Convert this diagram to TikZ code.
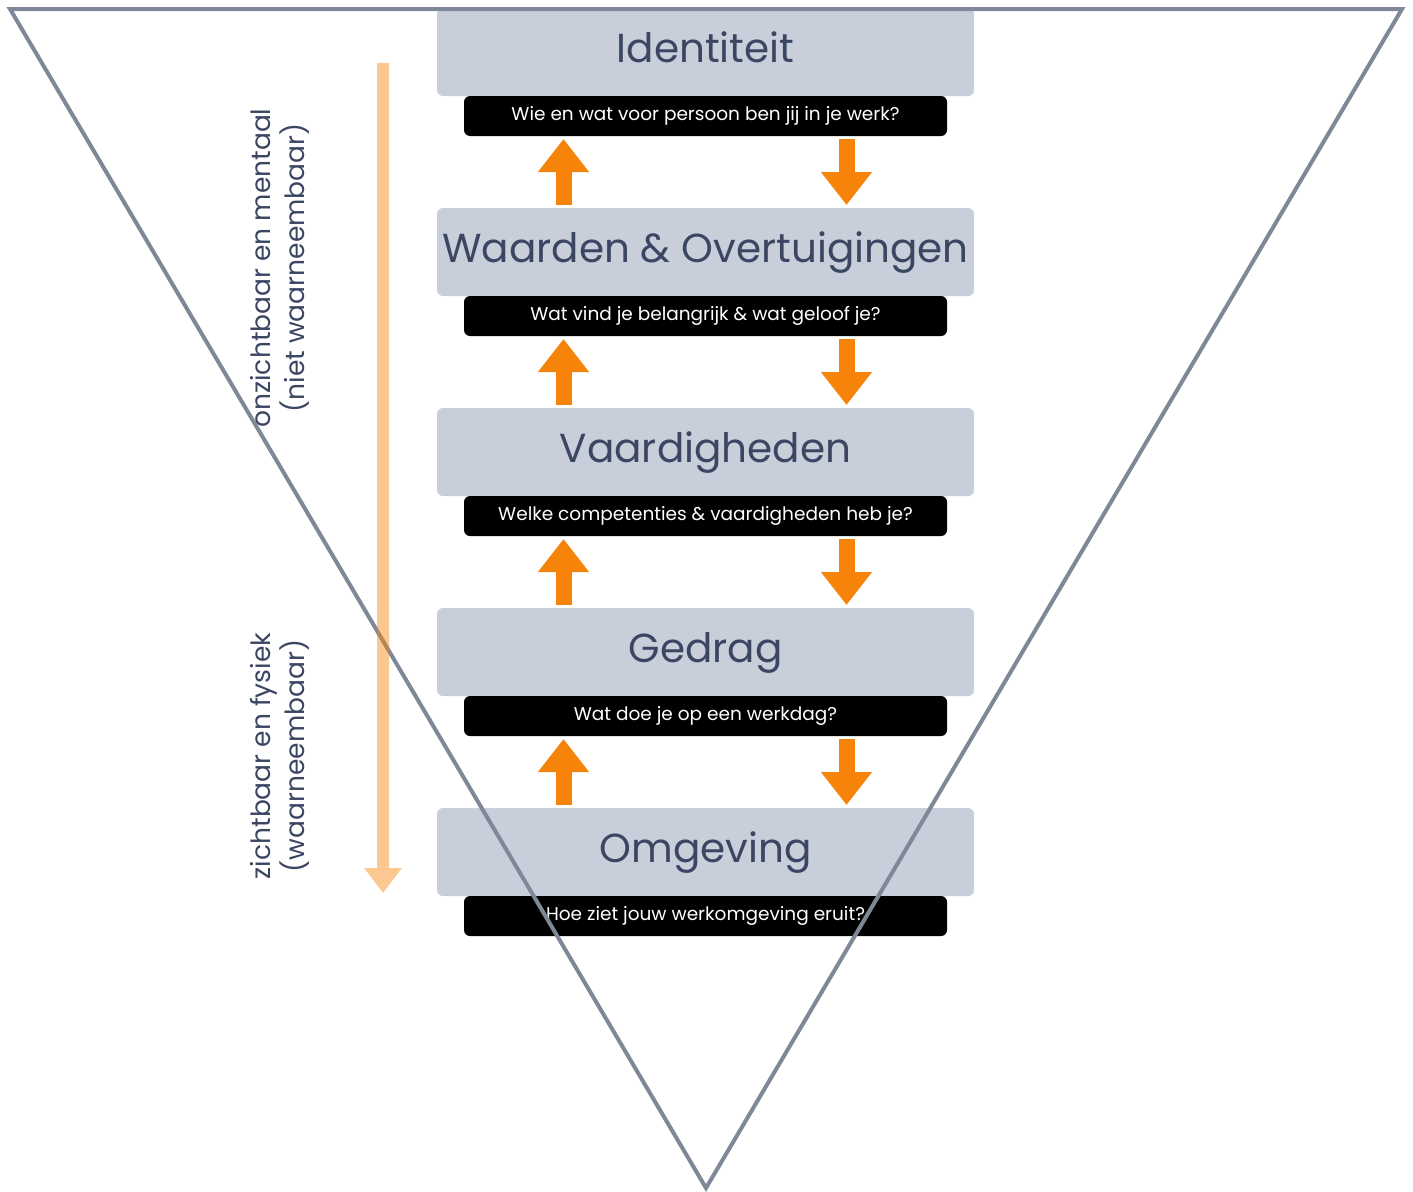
\documentclass[tikz,border=0pt]{standalone}
\usepackage{fontspec}
\setmainfont{Poppins}
\usetikzlibrary{arrows.meta,positioning}
\definecolor{boxgray}{HTML}{C8CFDB}
\definecolor{textslate}{HTML}{3B4663}
\definecolor{pijloranje}{HTML}{F7840A}
\definecolor{randgrijs}{HTML}{7F8898}

\begin{document}
\begin{tikzpicture}[x=1pt,y=-1pt,>=Latex,
 level/.style={fill=boxgray,rounded corners=6pt,minimum width=537pt,minimum height=88pt,outer sep=0pt,text height=30pt,text depth=9pt,text=textslate,font=\fontsize{40.5}{44}\selectfont},
 vraag/.style={fill=black,rounded corners=6pt,minimum width=483pt,minimum height=40pt,outer sep=0pt,text=white,font=\fontsize{18.5}{21}\selectfont},
 omhoog/.style={line width=16pt,pijloranje,shorten <=3pt,shorten >=3pt,-{Triangle[width=49pt,length=33pt]}},
 omlaag/.style={omhoog},
 zijtekst/.style={rotate=90,align=center,text=textslate,font=\fontsize{26.5}{34}\selectfont},
 tijdlijn/.style={line width=12pt,pijloranje,-{Triangle[width=36pt,length=25pt]}}]
\useasboundingbox (0,0) rectangle (1413,1191);

% niveaus
\node[level] (identiteit) at (705.5,52) {Identiteit};
\node[vraag,below=0pt of identiteit] (q1) {Wie en wat voor persoon ben jij in je werk?};
\node[level,below=72pt of q1] (waarden) {Waarden \& Overtuigingen};
\node[vraag,below=0pt of waarden] (q2) {Wat vind je belangrijk \& wat geloof je?};
\node[level,below=72pt of q2] (vaardig) {Vaardigheden};
\node[vraag,below=0pt of vaardig] (q3) {Welke competenties \& vaardigheden heb je?};
\node[level,below=72pt of q3] (gedrag) {Gedrag};
\node[vraag,below=0pt of gedrag] (q4) {Wat doe je op een werkdag?};
\node[level,below=72pt of q4] (omgeving) {Omgeving};
\node[vraag,below=0pt of omgeving] (q5) {Hoe ziet jouw werkomgeving eruit?};

% pijlen tussen de niveaus
\foreach \boven/\onder in {q1/waarden,q2/vaardig,q3/gedrag,q4/omgeving}{
  \draw[omhoog] ([xshift=-142pt]\onder.north) -- ([xshift=-142pt]\boven.south);
  \draw[omlaag] ([xshift=141pt]\boven.south) -- ([xshift=141pt]\onder.north);
}

% omgekeerde driehoek
\coordinate (linksboven) at (10,9);
\coordinate (rechtsboven) at (1402,9);
\coordinate (punt) at (706,1188);
\draw[randgrijs,line width=4pt] (linksboven) -- (rechtsboven) -- (punt) -- cycle;

% zijlabels
\node[zijtekst] (onzichtbaar) at (280,268) {onzichtbaar en mentaal\\(niet waarneembaar)};
\node[zijtekst] (zichtbaar) at (280,756) {zichtbaar en fysiek\\(waarneembaar)};
\coordinate (tijdboven) at (383,63);
\coordinate (tijdonder) at (383,893);
\begin{scope}[transparency group,opacity=0.45]
\draw[tijdlijn] (tijdboven) -- (tijdonder);
\end{scope}
\end{tikzpicture}
\end{document}
